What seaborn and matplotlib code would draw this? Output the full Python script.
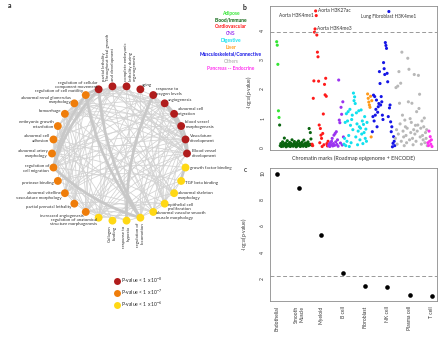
import numpy as np
import pandas as pd
import matplotlib.pyplot as plt
import seaborn as sns
from matplotlib.patches import FancyArrowPatch
from matplotlib.lines import Line2D


# =========================
# Data
# =========================

# panel a - enrichment network (nodes in clockwise order from top)
node_labels = [
    'partial lethality\nThroughout fetal growth\nand development',
    'complete embryonic\nlethality during\norganogenesis',
    'aging',
    'response to\noxygen levels',
    'angiogenesis',
    'abnormal cell\nmigration',
    'blood vessel\nmorphogenesis',
    'Vasculature\ndevelopment',
    'Blood vessel\ndevelopment',
    'growth factor binding',
    'TGF beta binding',
    'abnormal skeleton\nmorphology',
    'epithelial cell\nproliferation',
    'abnormal vascular smooth\nmuscle morphology',
    'regulation of\nlocomotion',
    'response to\nhypoxia',
    'Collagen\nbinding',
    'regulation of anatomical\nstructure morphogenesis',
    'increased angiogenesis',
    'partial prenatal lethality',
    'abnormal vitelline\nvasculature morphology',
    'protease binding',
    'regulation of\ncell migration',
    'abnormal artery\nmorphology',
    'abnormal cell\nadhesion',
    'embryonic growth\nretardation',
    'hemorrhage',
    'abnormal renal glomerulus\nmorphology',
    'regulation of cell motility',
    'regulation of cellular\ncomponent movement',
]
node_level = ['1e-8'] * 9 + ['1e-6'] * 9 + ['1e-7'] * 11 + ['1e-8']

level_names = ['1e-8', '1e-7', '1e-6']
level_labels = ['P-value < 1 x 10$^{-8}$', 'P-value < 1 x 10$^{-7}$', 'P-value < 1 x 10$^{-6}$']
level_colors = ['#b01c1c', '#ef7d0a', '#ffd814']

thin_edges = [
    (0, 1), (0, 19), (0, 25), (0, 20), (0, 26), (0, 8), (0, 7), (0, 23), (0, 4), (0, 18), (0, 13),
    (1, 19), (1, 25), (1, 20), (1, 26), (1, 23), (1, 7), (1, 8), (1, 6), (1, 13), (1, 27), (1, 11),
    (2, 3), (2, 15), (2, 12), (2, 17), (2, 9),
    (3, 4), (3, 7), (3, 8), (3, 6), (3, 12), (3, 17), (3, 22),
    (4, 5), (4, 18), (4, 14), (4, 22), (4, 28), (4, 29), (4, 17), (4, 12), (4, 20), (4, 26),
    (5, 22), (5, 28), (5, 29), (5, 14), (5, 24), (5, 18), (5, 6), (5, 12),
    (6, 18), (6, 20), (6, 23), (6, 17), (6, 13), (6, 26), (6, 27), (6, 14),
    (7, 17), (7, 18), (7, 20), (7, 23), (7, 13), (7, 26), (7, 27), (7, 11), (7, 12), (7, 14), (7, 22),
    (8, 17), (8, 18), (8, 20), (8, 23), (8, 13), (8, 26), (8, 27), (8, 12), (8, 22), (8, 29),
    (9, 16), (9, 21), (9, 12), (9, 17),
    (10, 16), (10, 21), (10, 11), (10, 12),
    (11, 23), (11, 25), (11, 13), (11, 16), (11, 24), (11, 27),
    (12, 17), (12, 14), (12, 22), (12, 28), (12, 29), (12, 18),
    (13, 23), (13, 20), (13, 26), (13, 18), (13, 19), (13, 27),
    (14, 17), (14, 24), (14, 18),
    (15, 17), (15, 18), (15, 4), (15, 12),
    (16, 21), (16, 24),
    (17, 22), (17, 28), (17, 29), (17, 18), (17, 25), (17, 20),
    (18, 20), (18, 23), (18, 26), (18, 19), (18, 27), (18, 22), (18, 28),
    (19, 25), (19, 20), (19, 26), (19, 23), (19, 27), (19, 24),
    (20, 23), (20, 26), (20, 25), (20, 27),
    (21, 24), (21, 28),
    (22, 24), (22, 26),
    (23, 26), (23, 27), (23, 25), (23, 24),
    (24, 28), (24, 29), (24, 27),
    (25, 26), (25, 27), (26, 27),
]
thick_edges = [
    (29, 14), (22, 14), (28, 14), (29, 22), (28, 22), (29, 28),
    (8, 7), (7, 6), (6, 4), (8, 4), (3, 15), (9, 10),
]

# panel b - chromatin marks, values per tissue group (left to right)
cat_names = ['Adipose', 'Blood/Immune', 'Cardiovascular', 'CNS', 'Digestive', 'Liver',
             'Musculoskeletal/Connective', 'Others', 'Pancreas -- Endocrine']
cat_colors = ['#33e633', '#0a6410', '#ff1a1a', '#9a33f0', '#11e0ee', '#ff9a1a',
              '#1515e6', '#b8b8b8', '#ff33f0']

adipose = [3.63, 3.51, 2.85, 1.25, 1.02]
blood = [0.76, 0.05, 0.12, 0.02, 0.08, 0.18, 0.03, 0.10, 0.31, 0.06, 0.14, 0.01, 0.09, 0.22,
         0.04, 0.11, 0.07, 0.16, 0.02, 0.13, 0.05, 0.25, 0.08, 0.03, 0.12, 0.19, 0.06, 0.10,
         0.01, 0.15, 0.04, 0.09, 0.21, 0.07, 0.13, 0.02, 0.11, 0.05, 0.17, 0.08, 0.03, 0.24,
         0.10, 0.06, 0.14, 0.02, 0.09, 0.12, 0.18, 0.05, 0.64, 0.10, 0.50, 0.28, 0.07]
cardio = [0.10, 0.05, 1.68, 2.28, 3.96, 4.07, 4.69, 4.53, 3.86, 3.27, 3.11, 2.27, 0.76, 0.15,
          0.64, 0.41, 0.30, 0.02, 0.47, 1.14, 0.08, 2.16, 1.80, 2.37, 1.75, 0.12, 0.04, 0.20]
cns = [0.05, 0.10, 0.02, 0.15, 0.08, 0.20, 0.30, 0.04, 0.12, 0.41, 0.06, 0.47, 0.18, 0.53,
       0.09, 0.25, 0.03, 2.31, 0.93, 0.84, 0.14, 1.37, 1.13, 0.07, 1.56, 0.35]
digestive = [0.10, 0.30, 0.85, 0.05, 1.15, 0.20, 0.90, 1.22, 0.40, 0.02, 1.30, 0.75, 0.15, 0.95,
             1.10, 0.60, 1.86, 1.60, 1.73, 1.50, 0.35, 1.18, 0.80, 0.08, 0.55, 1.25, 0.70, 0.25,
             0.65, 1.28, 0.45, 0.90, 0.12, 0.78, 0.50, 1.05, 0.30, 0.62, 0.20, 0.85]
liver = [1.83, 1.68, 1.55, 1.45, 1.37, 1.75, 0.35, 1.60]
musculo = [0.53, 1.05, 1.79, 0.90, 1.74, 1.10, 1.30, 1.62, 0.70, 1.20, 1.39, 1.50, 2.60, 2.19,
           1.45, 1.74, 1.56, 1.10, 0.95, 2.91, 2.70, 2.50, 3.60, 3.50, 3.40, 2.54, 2.25, 1.05,
           4.67, 1.35, 1.45, 0.87, 0.53, 0.70, 0.01, 0.13, 0.36, 0.20, 0.05]
others = [0.30, 2.05, 0.60, 0.10, 2.10, 0.45, 2.60, 1.51, 0.80, 2.20, 0.20, 3.27, 1.10, 0.55,
          0.35, 0.05, 0.93, 0.70, 0.40, 0.15, 0.65, 3.06, 1.56, 2.68, 0.25, 0.98, 0.50, 0.85,
          1.51, 0.30, 0.08, 0.60, 2.50, 0.45, 0.75, 0.20, 1.22, 0.55, 0.76, 2.47, 1.33, 1.82,
          0.35, 0.65, 0.10, 0.90, 0.40, 0.25, 0.70, 1.00, 0.15, 0.50, 0.30, 0.60, 0.05]
pancreas = [0.15, 0.05, 0.55, 0.20, 0.36, 0.10, 0.25, 0.02]

b_threshold = 3.98

# labelled marks: (group, value, text, side)
b_marks = [
    ('Cardiovascular', 4.69, 'Aorta H3K27ac', 'right'),
    ('Cardiovascular', 4.53, 'Aorta H3K4me1', 'left'),
    ('Cardiovascular', 4.07, 'Aorta H3K4me3', 'right'),
    ('Musculoskeletal/Connective', 4.67, 'Lung Fibroblast H3K4me1', 'below'),
]

# panel c - cell types
cell_types = ['Endothelial', 'Smooth\nMuscle', 'Myeloid', 'B cell', 'Fibroblast',
              'NK cell', 'Plasma cell', 'T cell']
cell_logp = [9.95, 8.86, 5.29, 2.43, 1.47, 1.40, 0.79, 0.71]
c_threshold = 2.2


# =========================
# Style
# =========================

sns.set_style('white')
plt.rcParams['font.family'] = ['Lato', 'DejaVu Sans']
plt.rcParams['mathtext.default'] = 'regular'

fig = plt.figure(figsize=(4.4, 3.38), dpi=100)


# =========================
# a - network
# =========================

ax_a = fig.add_axes([0, 0, 242 / 440, 1])
ax_a.set_xlim(0, 242)
ax_a.set_ylim(338, 0)
ax_a.axis('off')

cx, cy, R = 119.5, 153.5, 67.5
theta = np.radians(-6 + 12 * np.arange(len(node_labels)))
nx = cx + R * np.sin(theta)
ny = cy - R * np.cos(theta)

for a, b in thin_edges:
    ax_a.add_patch(FancyArrowPatch((nx[a], ny[a]), (nx[b], ny[b]), arrowstyle='-',
                                   connectionstyle='arc3,rad=0.12', color='#d2d2d2',
                                   lw=0.55, shrinkA=0, shrinkB=0, zorder=1))
for a, b in thick_edges:
    ax_a.add_patch(FancyArrowPatch((nx[a], ny[a]), (nx[b], ny[b]), arrowstyle='-',
                                   connectionstyle='arc3,rad=0.12', color='#c8c8c8',
                                   lw=2.0, shrinkA=0, shrinkB=0, zorder=1))

nodes = pd.DataFrame({'x': nx, 'y': ny, 'level': node_level})
sns.scatterplot(data=nodes, x='x', y='y', hue='level', hue_order=level_names,
                palette=level_colors, s=32, linewidth=0, legend=False, ax=ax_a, zorder=3)

vertical_top = {0: -4, 1: 4}
vertical_bottom = [14, 15, 16]
for i, lab in enumerate(node_labels):
    if i in vertical_top:
        ax_a.text(nx[i] + vertical_top[i], ny[i] - 5, lab, rotation=90, ha='center',
                  va='bottom', fontsize=3.2, color='#333333', multialignment='left')
    elif i in vertical_bottom:
        ax_a.text(nx[i], ny[i] + 5, lab, rotation=90, ha='center', va='top',
                  fontsize=3.2, color='#333333', multialignment='right')
    else:
        s = np.sin(theta[i])
        tx = cx + (R + 4.5) * s
        ty = cy - (R + 4.5) * np.cos(theta[i])
        ha = 'left' if s > 0 else 'right'
        ax_a.text(tx, ty, lab, ha=ha, va='center', fontsize=3.2, color='#333333',
                  multialignment=ha, linespacing=1.25)

handles = [Line2D([], [], marker='o', ls='', markersize=5, markerfacecolor=c,
                  markeredgewidth=0) for c in level_colors]
ax_a.legend(handles, level_labels, loc='upper left', bbox_to_anchor=(111 / 242, 1 - 273 / 338),
            frameon=False, fontsize=3.6, handletextpad=0.2, labelspacing=0.55,
            borderpad=0, handlelength=1.2)

fig.text(8 / 440, 1 - 6 / 338, 'a', fontsize=5, fontweight='bold', va='center')


# =========================
# b - chromatin marks
# =========================

groups = [adipose, blood, cardio, cns, digestive, liver, musculo, others, pancreas]
df_b = pd.DataFrame({
    'logp': np.concatenate(groups),
    'tissue': np.repeat(cat_names, [len(g) for g in groups]),
})
df_b['idx'] = np.arange(len(df_b))

ax_b = fig.add_axes([270 / 440, 1 - 150 / 338, 167 / 440, 144 / 338])
sns.scatterplot(data=df_b, x='idx', y='logp', hue='tissue', hue_order=cat_names,
                palette=cat_colors, s=5, linewidth=0, legend=False, ax=ax_b)
ax_b.axhline(b_threshold, color='#999999', ls=(0, (4, 2.5)), lw=0.7)
ax_b.set_xlim(-11.3, len(df_b) + 7.5)
ax_b.set_ylim(-0.1, 4.86)
ax_b.set_xticks([])
ax_b.set_yticks([0, 1, 2, 3, 4])
ax_b.set_xlabel('Chromatin marks (Roadmap epigenome + ENCODE)', fontsize=3.9,
                color='#333333', labelpad=4)
ax_b.set_ylabel('-log$_{10}$(p-value)', fontsize=3.6, color='#333333')
ax_b.yaxis.set_label_coords(-0.095, 0.4)

for tissue, val, text, side in b_marks:
    row = df_b[(df_b['tissue'] == tissue) & (df_b['logp'] == val)].iloc[0]
    if side == 'right':
        off, ha, va = (1.5, 0), 'left', 'center'
    elif side == 'left':
        off, ha, va = (-1.5, 0), 'right', 'center'
    else:
        off, ha, va = (0, -1.5), 'center', 'top'
    ax_b.annotate(text, (row['idx'], val), xytext=off, textcoords='offset points',
                  ha=ha, va=va, fontsize=3.4, color='#333333')

for i, (name, col) in enumerate(zip(cat_names, cat_colors)):
    fig.text(231 / 440, 1 - (13 + 6.9 * i) / 338, name, color=col, fontsize=3.5,
             fontweight='bold', ha='center', va='center')

fig.text(243 / 440, 1 - 7 / 338, 'b', fontsize=5, fontweight='bold', va='center')


# =========================
# c - cell types
# =========================

ax_c = fig.add_axes([270 / 440, 1 - 301 / 338, 167 / 440, 133 / 338])
sns.scatterplot(x=np.arange(len(cell_types)), y=cell_logp, color='black', s=11,
                linewidth=0, ax=ax_c)
ax_c.axhline(c_threshold, color='#999999', ls=(0, (4, 2.5)), lw=0.7)
ax_c.set_xlim(-0.3, 7.24)
ax_c.set_ylim(0.34, 10.38)
ax_c.set_xticks(np.arange(len(cell_types)))
ax_c.set_xticklabels(cell_types, rotation=90, fontsize=3.6, color='#333333')
ax_c.set_yticks([2, 4, 6, 8, 10])
ax_c.set_ylabel('-log$_{10}$(p-value)', fontsize=3.6, color='#333333', labelpad=8)

fig.text(244 / 440, 1 - 170 / 338, 'c', fontsize=5, va='center')

for ax in (ax_b, ax_c):
    for sp in ax.spines.values():
        sp.set_color('#8c8c8c')
        sp.set_linewidth(0.6)
    ax.tick_params(axis='both', length=2, width=0.5, color='#8c8c8c', pad=1.5,
                   labelsize=3.6, labelcolor='#333333')
    for t in ax.get_yticklabels():
        t.set_rotation(90)
        t.set_va('center')

ax_b.tick_params(axis='x', length=0)

plt.savefig('out.png', dpi=100)
